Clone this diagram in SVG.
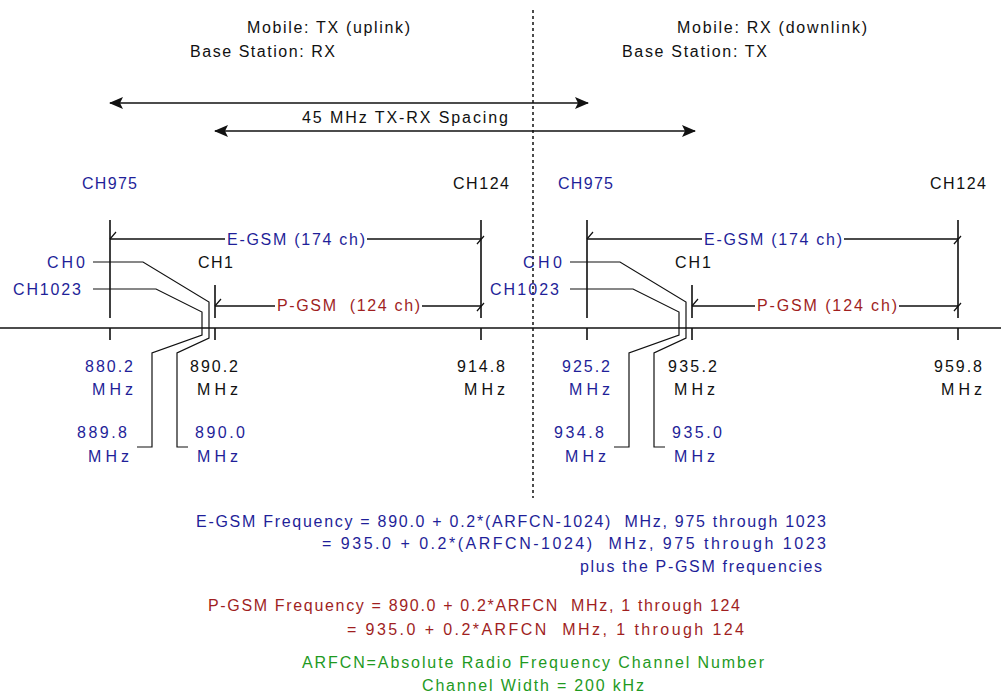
<svg xmlns="http://www.w3.org/2000/svg" width="1001" height="695" viewBox="0 0 1001 695">
<style>
text{font-family:"Liberation Sans",Arial,sans-serif;font-size:16px;white-space:pre}
.b{fill:#1f1f99}.k{fill:#111}.r{fill:#a01f1f}.g{fill:#1f9a1f}
.ln{stroke:#111;stroke-width:1.6;fill:none}
.th{stroke:#111;stroke-width:1.2;fill:none}
.dot{stroke:#111;stroke-width:1.5;stroke-dasharray:3,3;fill:none}
</style>
<defs>
<marker id="ah" markerUnits="userSpaceOnUse" markerWidth="14" markerHeight="12" refX="13" refY="6" orient="auto-start-reverse">
<path d="M0,0 L14,6 L0,12 L3,6 Z" fill="#111"/>
</marker>
</defs>
<rect width="1001" height="695" fill="#fff"/>

<g id="connectors">
<line class="dot" x1="533" y1="10" x2="533" y2="498"/>
<line class="ln" x1="0" y1="328" x2="1001" y2="328"/>
<line class="ln" x1="110" y1="103" x2="588" y2="103" marker-start="url(#ah)" marker-end="url(#ah)"/>
<line class="ln" x1="215" y1="131" x2="695" y2="131" marker-start="url(#ah)" marker-end="url(#ah)"/>
</g>

<g id="header">
<text class="k" x="247" y="33" textLength="163" lengthAdjust="spacing">Mobile: TX (uplink)</text>
<text class="k" x="190" y="57" textLength="145" lengthAdjust="spacing">Base Station: RX</text>
<text class="k" x="677" y="33" textLength="190" lengthAdjust="spacing">Mobile: RX (downlink)</text>
<text class="k" x="622" y="57" textLength="145" lengthAdjust="spacing">Base Station: TX</text>
<text class="k" x="302" y="123" textLength="206" lengthAdjust="spacing">45 MHz TX-RX Spacing</text>
</g>

<g id="uplink">
<path class="ln" d="M110,220 V318 M110,328 V340 M481,220 V318 M481,328 V340 M215,285 V318 M215,328 V340"/>
<path class="ln" d="M110,239 H225 M367,239 H481 M215,306 H275 M422,306 H481"/>
<path class="th" d="M110,239 l6,-7 M481,239 l-4,5 l7,-8 M215,306 l6,-7 M481,306 l-4,5 l7,-8"/>
<path class="th" d="M93,289 H156 L202,312 V335 L152,353 V447 H137"/>
<path class="th" d="M93,262 H143 L209,302 V338 L177,353 V447 H188"/>
<text class="b" x="82" y="189" textLength="55" lengthAdjust="spacing">CH975</text>
<text class="k" x="453" y="189" textLength="56" lengthAdjust="spacing">CH124</text>
<text class="b" x="227" y="245" textLength="138" lengthAdjust="spacing">E-GSM (174 ch)</text>
<text class="b" x="47" y="268" textLength="38" lengthAdjust="spacing">CH0</text>
<text class="k" x="198" y="268" textLength="35" lengthAdjust="spacing">CH1</text>
<text class="b" x="13" y="295" textLength="68" lengthAdjust="spacing">CH1023</text>
<text class="r" x="277" y="311" textLength="143" lengthAdjust="spacing">P-GSM  (124 ch)</text>
<text class="b" x="85" y="372" textLength="48" lengthAdjust="spacing">880.2</text>
<text class="b" x="92" y="395" textLength="41" lengthAdjust="spacing">MHz</text>
<text class="k" x="190" y="372" textLength="48" lengthAdjust="spacing">890.2</text>
<text class="k" x="197" y="395" textLength="41" lengthAdjust="spacing">MHz</text>
<text class="k" x="457" y="372" textLength="48" lengthAdjust="spacing">914.8</text>
<text class="k" x="464" y="395" textLength="41" lengthAdjust="spacing">MHz</text>
<text class="b" x="77" y="438" textLength="50" lengthAdjust="spacing">889.8</text>
<text class="b" x="88" y="462" textLength="41" lengthAdjust="spacing">MHz</text>
<text class="b" x="195" y="438" textLength="50" lengthAdjust="spacing">890.0</text>
<text class="b" x="197" y="462" textLength="41" lengthAdjust="spacing">MHz</text>
</g>

<g id="downlink">
<path class="ln" d="M587,220 V318 M587,328 V340 M958,220 V318 M958,328 V340 M692,285 V318 M692,328 V340"/>
<path class="ln" d="M587,239 H702 M844,239 H958 M692,306 H755 M899,306 H958"/>
<path class="th" d="M587,239 l6,-7 M958,239 l-4,5 l7,-8 M692,306 l6,-7 M958,306 l-4,5 l7,-8"/>
<path class="th" d="M570,289 H633 L679,312 V335 L629,353 V447 H614"/>
<path class="th" d="M570,262 H620 L686,302 V338 L654,353 V447 H665"/>
<text class="b" x="558" y="189" textLength="55" lengthAdjust="spacing">CH975</text>
<text class="k" x="930" y="189" textLength="56" lengthAdjust="spacing">CH124</text>
<text class="b" x="704" y="245" textLength="138" lengthAdjust="spacing">E-GSM (174 ch)</text>
<text class="b" x="523" y="268" textLength="39" lengthAdjust="spacing">CH0</text>
<text class="k" x="675" y="268" textLength="36" lengthAdjust="spacing">CH1</text>
<text class="b" x="490" y="295" textLength="69" lengthAdjust="spacing">CH1023</text>
<text class="r" x="757" y="311" textLength="140" lengthAdjust="spacing">P-GSM (124 ch)</text>
<text class="b" x="562" y="372" textLength="48" lengthAdjust="spacing">925.2</text>
<text class="b" x="569" y="395" textLength="41" lengthAdjust="spacing">MHz</text>
<text class="k" x="668" y="372" textLength="49" lengthAdjust="spacing">935.2</text>
<text class="k" x="674" y="395" textLength="41" lengthAdjust="spacing">MHz</text>
<text class="k" x="934" y="372" textLength="48" lengthAdjust="spacing">959.8</text>
<text class="k" x="941" y="395" textLength="41" lengthAdjust="spacing">MHz</text>
<text class="b" x="554" y="438" textLength="50" lengthAdjust="spacing">934.8</text>
<text class="b" x="565" y="462" textLength="41" lengthAdjust="spacing">MHz</text>
<text class="b" x="672" y="438" textLength="50" lengthAdjust="spacing">935.0</text>
<text class="b" x="674" y="462" textLength="41" lengthAdjust="spacing">MHz</text>
</g>

<g id="formulas">
<text class="b" x="196" y="527" textLength="630" lengthAdjust="spacing">E-GSM Frequency = 890.0 + 0.2*(ARFCN-1024)  MHz, 975 through 1023</text>
<text class="b" x="322" y="549" textLength="504" lengthAdjust="spacing">= 935.0 + 0.2*(ARFCN-1024)  MHz, 975 through 1023</text>
<text class="b" x="580" y="572" textLength="242" lengthAdjust="spacing">plus the P-GSM frequencies</text>
<text class="r" x="208" y="611" textLength="532" lengthAdjust="spacing">P-GSM Frequency = 890.0 + 0.2*ARFCN  MHz, 1 through 124</text>
<text class="r" x="347" y="635" textLength="397" lengthAdjust="spacing">= 935.0 + 0.2*ARFCN  MHz, 1 through 124</text>
<text class="g" x="302" y="668" textLength="462" lengthAdjust="spacing">ARFCN=Absolute Radio Frequency Channel Number</text>
<text class="g" x="422" y="691" textLength="222" lengthAdjust="spacing">Channel Width = 200 kHz</text>
</g>
</svg>
